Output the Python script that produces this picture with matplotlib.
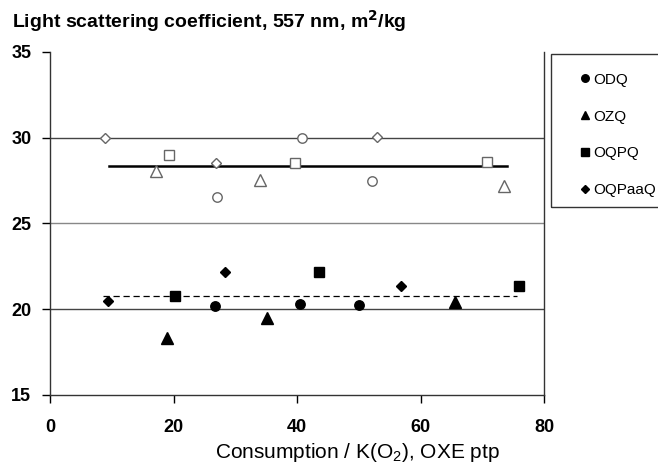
import numpy as np
import matplotlib.pyplot as plt
from matplotlib.patches import Rectangle

plt.rcParams['font.family'] = ['Liberation Sans', 'DejaVu Sans']

series = ["ODQ", "OZQ", "OQPQ", "OQPaaQ"]
markers = ["o", "^", "s", "D"]

# filled markers (lower group)
x_filled = [
    [26.8, 40.5, 50.0],
    [19.0, 35.2, 65.6],
    [20.2, 43.5, 75.9],
    [9.4, 28.3, 56.8],
]
y_filled = [
    [20.2, 20.3, 20.25],
    [18.3, 19.5, 20.45],
    [20.8, 22.15, 21.35],
    [20.5, 22.2, 21.35],
]

# open markers (upper group)
x_open = [
    [27.0, 40.8, 52.1],
    [17.1, 34.0, 73.5],
    [19.3, 39.7, 70.8],
    [8.9, 26.9, 52.9],
]
y_open = [
    [26.55, 30.0, 27.5],
    [28.05, 27.55, 27.2],
    [29.0, 28.5, 28.6],
    [30.0, 28.55, 30.05],
]

# mean level lines
upper_x = [9.6, 74.0]
upper_y = 28.35
lower_x = [8.6, 75.6]
lower_y = 20.8

fig = plt.figure(figsize=(6.58, 4.66), dpi=100)
ax = fig.add_axes([50 / 658, 1 - 395 / 466, 494 / 658, 343 / 466])

for y, c in [(20, "#444444"), (25, "#888888"), (30, "#444444")]:
    ax.axhline(y, color=c, lw=1.0, zorder=1)

ax.plot(upper_x, [upper_y, upper_y], color="black", lw=1.8, zorder=2)
ax.plot(lower_x, [lower_y, lower_y], color="black", lw=0.9, ls=(0, (5, 3)), zorder=2)

sizes = {"o": 6.8, "^": 8, "s": 6.8, "D": 5.5}
handles = []
for name, m, xf, yf, xo, yo in zip(series, markers, x_filled, y_filled, x_open, y_open):
    ax.plot(xo, yo, ls="none", marker=m, ms=sizes[m], mfc="white", mec="#666666",
            mew=1.0, zorder=3)
    h, = ax.plot(xf, yf, ls="none", marker=m, ms=sizes[m], mfc="black", mec="black",
                 zorder=3, label=name)
    handles.append(h)

ax.set_xlim(0, 80)
ax.set_ylim(15, 35)
ax.set_xticks([0, 20, 40, 60, 80])
ax.set_yticks([15, 20, 25, 30, 35])
ax.tick_params(direction="out", length=6, width=1, labelsize=13)
ax.tick_params(axis="x", pad=11.5)
ax.tick_params(axis="y", pad=7.5)
for lab in ax.get_xticklabels() + ax.get_yticklabels():
    lab.set_fontweight("bold")
ax.spines["top"].set_visible(False)
for s in ["left", "bottom", "right"]:
    ax.spines[s].set_color("#333333")
    ax.spines[s].set_linewidth(1.0)

ax.set_xlabel(r"Consumption / K(O$_\mathregular{2}$), OXE ptp", fontsize=15,
              va="baseline")
ax.xaxis.set_label_coords((357 - 50) / 494, (395 - 458) / 343)
fig.text(12 / 658, 1 - 28 / 466, r"Light scattering coefficient, 557 nm, m$^\mathbf{2}$/kg",
         fontsize=14, fontweight="bold", ha="left", va="baseline")

# legend frame
fig.patches.append(Rectangle((551 / 658, 1 - 207 / 466), 112 / 658, 153 / 466,
                             transform=fig.transFigure, fill=False,
                             edgecolor="#333333", lw=1.0))
fig.legend(handles=handles, loc="upper left", bbox_to_anchor=(573 / 658, 1 - 65 / 466),
           frameon=False, fontsize=11, handlelength=0.6, handletextpad=0.25,
           labelspacing=1.5, markerscale=0.8, borderpad=0)

fig.savefig("out.png", dpi=100)
